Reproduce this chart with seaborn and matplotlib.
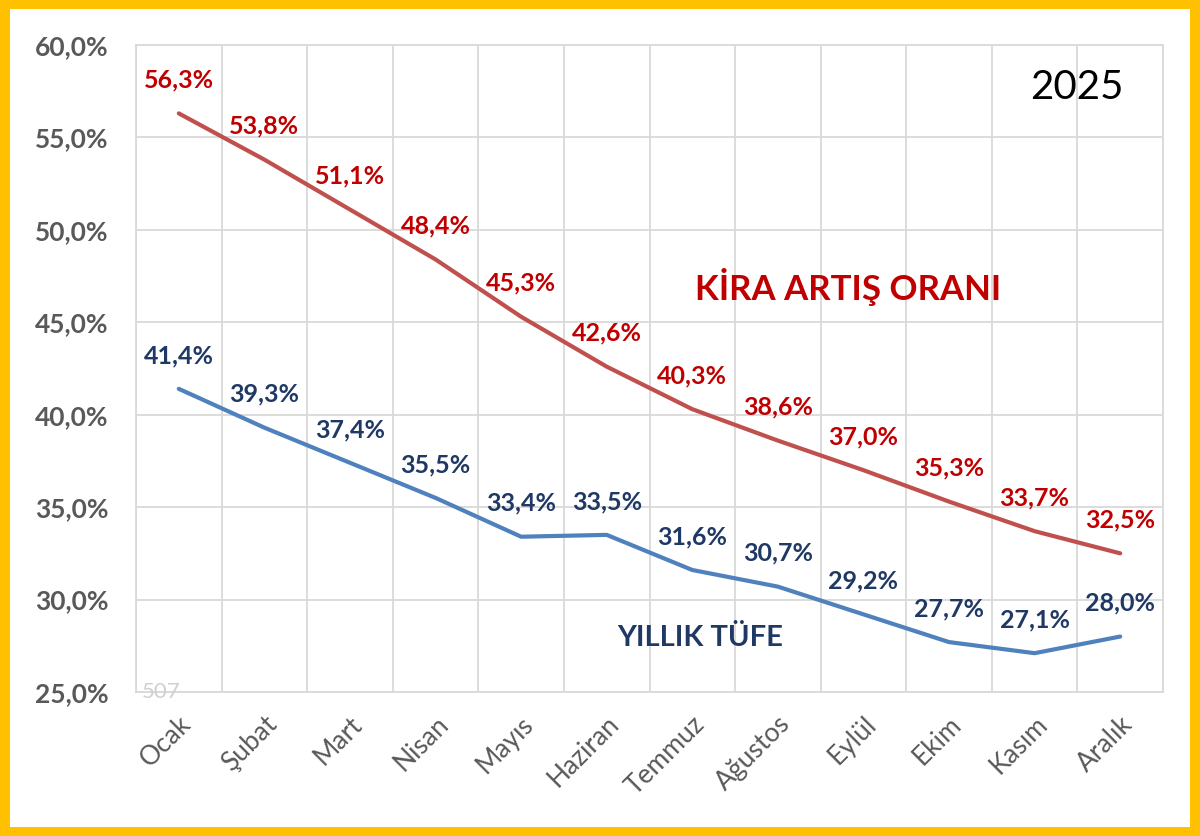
import matplotlib
matplotlib.use("Agg")
import matplotlib.pyplot as plt
from matplotlib.patches import Rectangle
import seaborn as sns
import pandas as pd

months = ["Ocak", "Şubat", "Mart", "Nisan", "Mayıs", "Haziran",
          "Temmuz", "Ağustos", "Eylül", "Ekim", "Kasım", "Aralık"]
kira = [56.3, 53.8, 51.1, 48.4, 45.3, 42.6, 40.3, 38.6, 37.0, 35.3, 33.7, 32.5]
tufe = [41.4, 39.3, 37.4, 35.5, 33.4, 33.5, 31.6, 30.7, 29.2, 27.7, 27.1, 28.0]
y_ticks = [25, 30, 35, 40, 45, 50, 55, 60]

sns.set_style("white")
plt.rcParams['font.family'] = ['Lato', 'DejaVu Sans']

df = pd.DataFrame({"Ay": list(range(len(months))) * 2,
                   "Oran": kira + tufe,
                   "Seri": ["Kira"] * len(kira) + ["TÜFE"] * len(tufe)})

fig = plt.figure(figsize=(12, 8.36), dpi=100)
fig.patch.set_facecolor("#FFC000")
# white inner card inside the yellow frame
fig.patches.append(Rectangle((10 / 1200, 9 / 836), 1180 / 1200, 818 / 836,
                             transform=fig.transFigure, facecolor="white",
                             edgecolor="none", zorder=-10))

ax = fig.add_axes([136 / 1200, 1 - 692 / 836, 1027 / 1200, 647 / 836])
ax.set_facecolor("white")

line_colors = {"Kira": "#C0504D", "TÜFE": "#4F81BD"}
sns.lineplot(data=df, x="Ay", y="Oran", hue="Seri", palette=line_colors,
             linewidth=3, legend=False, ax=ax, zorder=3)

# data labels
label_colors = {"Kira": "#C00000", "TÜFE": "#1F3864"}
for name, vals in [("Kira", kira), ("TÜFE", tufe)]:
    for i, v in enumerate(vals):
        ax.annotate(f"{v:.1f}%".replace(".", ","), (i, v),
                    xytext=(0, 24), textcoords="offset points",
                    ha="center", va="center", fontsize=18, fontweight="bold",
                    color=label_colors[name], zorder=4)

ax.set_xlim(-0.5, len(months) - 0.5)
ax.set_ylim(25, 60)
ax.set_yticks(y_ticks)
ax.set_yticklabels([f"{t},0%" for t in y_ticks], fontsize=19,
                   fontweight="bold", color="#595959")
ax.set_xticks(range(len(months)))
ax.set_xticklabels(months, rotation=45, ha="right", rotation_mode="anchor",
                   fontsize=19, color="#595959")
ax.tick_params(axis="both", length=0)
ax.tick_params(axis="x", pad=14)
ax.tick_params(axis="y", pad=20)

# gridlines between categories, Excel style
for b in [i - 0.5 for i in range(len(months) + 1)]:
    ax.axvline(b, color="#D9D9D9", linewidth=1.3, zorder=1)
for t in y_ticks:
    ax.axhline(t, color="#D9D9D9", linewidth=1.3, zorder=1)
for s in ax.spines.values():
    s.set_color("#D9D9D9")
    s.set_linewidth(1.3)

ax.set_xlabel("")
ax.set_ylabel("")

ax.text(0.693, 0.626, "KİRA ARTIŞ ORANI", transform=ax.transAxes,
        ha="center", va="center", fontsize=25, fontweight="bold", color="#C00000")
ax.text(0.549, 0.0835, "YILLIK TÜFE", transform=ax.transAxes,
        ha="center", va="center", fontsize=21, fontweight="bold", color="#1F3864")
ax.text(0.916, 0.935, "2025", transform=ax.transAxes,
        ha="center", va="center", fontsize=29, color="black")
ax.text(0.006, 0.0, "507", transform=ax.transAxes,
        ha="left", va="center", fontsize=16, color="#D0D0D0")

fig.savefig("out.png", dpi=100, facecolor=fig.get_facecolor())
